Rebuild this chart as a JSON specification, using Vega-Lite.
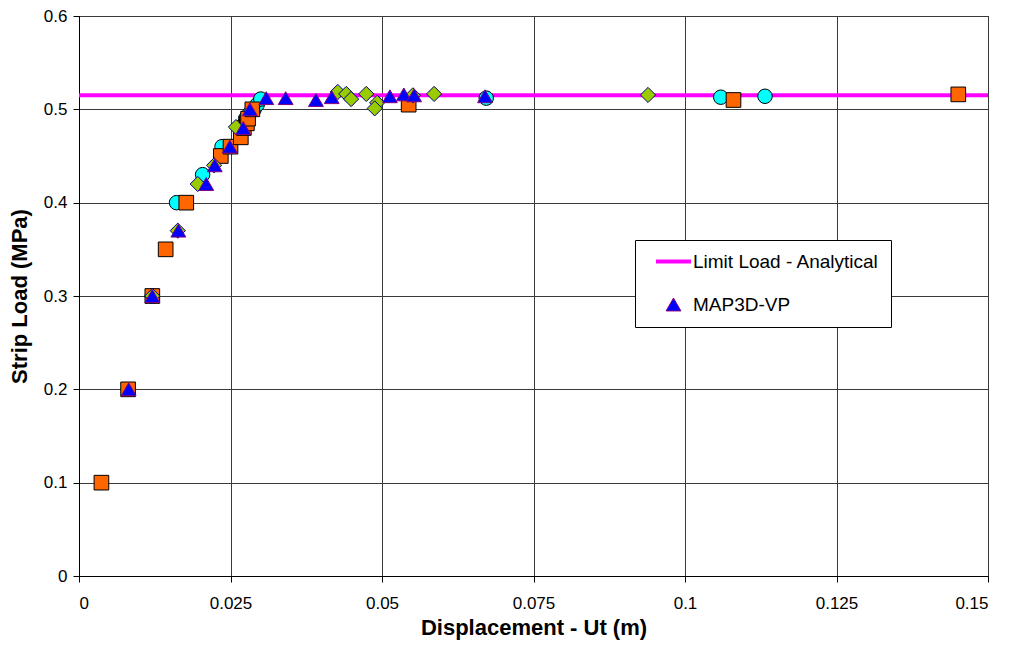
{
  "$schema": "https://vega.github.io/schema/vega-lite/v6.json",
  "width": 909,
  "height": 560,
  "autosize": {"type": "none"},
  "padding": {"left": 79, "top": 16, "right": 24, "bottom": 70},
  "background": "white",
  "config": {
    "view": {"stroke": "black", "strokeWidth": 1},
    "font": "Liberation Sans",
    "axis": {
      "domainColor": "black",
      "tickColor": "black",
      "tickSize": 6,
      "gridColor": "#3a3a3a",
      "gridWidth": 1,
      "labelFont": "Liberation Sans",
      "labelFontSize": 17,
      "labelColor": "black",
      "titleFont": "Liberation Sans",
      "titleFontSize": 22,
      "titleFontWeight": "bold",
      "titleColor": "black"
    },
    "legend": {
      "title": null,
      "orient": "none", "legendX": 556, "legendY": 224,
      "padding": 12, "strokeColor": "black", "fillColor": "white",
      "labelFont": "Liberation Sans", "labelFontSize": 19, "labelColor": "black",
      "labelLimit": 500, "symbolOffset": 17, "symbolSize": 1225,
      "rowPadding": 23, "labelOffset": 10,
      "labelExpr": "datum.label + '        '"
    }
  },
  "datasets": {
    "limit": [
      {"s": "Limit Load - Analytical", "x": 0, "y": 0.515},
      {"s": "Limit Load - Analytical", "x": 0.15, "y": 0.515}
    ],
    "pts": [
      {"s": "Series C", "x": 0.0121, "y": 0.3},
      {"s": "Series C", "x": 0.0161, "y": 0.4},
      {"s": "Series C", "x": 0.0204, "y": 0.43},
      {"s": "Series C", "x": 0.0236, "y": 0.46},
      {"s": "Series C", "x": 0.0275, "y": 0.49},
      {"s": "Series C", "x": 0.0281, "y": 0.495},
      {"s": "Series C", "x": 0.0289, "y": 0.5},
      {"s": "Series C", "x": 0.0294, "y": 0.505},
      {"s": "Series C", "x": 0.03, "y": 0.511},
      {"s": "Series C", "x": 0.0672, "y": 0.512},
      {"s": "Series C", "x": 0.1059, "y": 0.513},
      {"s": "Series C", "x": 0.1132, "y": 0.514},
      {"s": "Series A", "x": 0.0037, "y": 0.1},
      {"s": "Series A", "x": 0.0081, "y": 0.2},
      {"s": "Series A", "x": 0.0121, "y": 0.3},
      {"s": "Series A", "x": 0.0143, "y": 0.35},
      {"s": "Series A", "x": 0.0177, "y": 0.4},
      {"s": "Series A", "x": 0.0234, "y": 0.45},
      {"s": "Series A", "x": 0.025, "y": 0.46},
      {"s": "Series A", "x": 0.0267, "y": 0.47},
      {"s": "Series A", "x": 0.0272, "y": 0.48},
      {"s": "Series A", "x": 0.0277, "y": 0.485},
      {"s": "Series A", "x": 0.0279, "y": 0.49},
      {"s": "Series A", "x": 0.0286, "y": 0.5},
      {"s": "Series A", "x": 0.0544, "y": 0.505},
      {"s": "Series A", "x": 0.108, "y": 0.51},
      {"s": "Series A", "x": 0.1451, "y": 0.516},
      {"s": "Series B", "x": 0.0121, "y": 0.3},
      {"s": "Series B", "x": 0.0163, "y": 0.37},
      {"s": "Series B", "x": 0.0196, "y": 0.42},
      {"s": "Series B", "x": 0.0223, "y": 0.44},
      {"s": "Series B", "x": 0.0259, "y": 0.481},
      {"s": "Series B", "x": 0.0427, "y": 0.5186},
      {"s": "Series B", "x": 0.0441, "y": 0.5165},
      {"s": "Series B", "x": 0.0449, "y": 0.511},
      {"s": "Series B", "x": 0.0474, "y": 0.5165},
      {"s": "Series B", "x": 0.0492, "y": 0.507},
      {"s": "Series B", "x": 0.0488, "y": 0.501},
      {"s": "Series B", "x": 0.0551, "y": 0.515},
      {"s": "Series B", "x": 0.0586, "y": 0.5165},
      {"s": "Series B", "x": 0.0939, "y": 0.5154},
      {"s": "MAP3D-VP", "x": 0.0082, "y": 0.2},
      {"s": "MAP3D-VP", "x": 0.0121, "y": 0.3},
      {"s": "MAP3D-VP", "x": 0.0164, "y": 0.37},
      {"s": "MAP3D-VP", "x": 0.021, "y": 0.42},
      {"s": "MAP3D-VP", "x": 0.0224, "y": 0.44},
      {"s": "MAP3D-VP", "x": 0.0249, "y": 0.46},
      {"s": "MAP3D-VP", "x": 0.0271, "y": 0.48},
      {"s": "MAP3D-VP", "x": 0.0282, "y": 0.5},
      {"s": "MAP3D-VP", "x": 0.0309, "y": 0.512},
      {"s": "MAP3D-VP", "x": 0.0341, "y": 0.512},
      {"s": "MAP3D-VP", "x": 0.0391, "y": 0.51},
      {"s": "MAP3D-VP", "x": 0.0417, "y": 0.513},
      {"s": "MAP3D-VP", "x": 0.0513, "y": 0.514},
      {"s": "MAP3D-VP", "x": 0.0536, "y": 0.516},
      {"s": "MAP3D-VP", "x": 0.0553, "y": 0.515},
      {"s": "MAP3D-VP", "x": 0.067, "y": 0.514}
    ]
  },
  "layer": [
    {
      "data": {"name": "limit"},
      "mark": {"type": "line", "strokeWidth": 4},
      "encoding": {
        "x": {
          "field": "x", "type": "quantitative",
          "scale": {"domain": [0, 0.15], "nice": false},
          "axis": {"values": [0, 0.025, 0.05, 0.075, 0.1, 0.125, 0.15], "format": "~g", "title": "Displacement - Ut (m)", "titlePadding": 6, "labelPadding": 13}
        },
        "y": {
          "field": "y", "type": "quantitative",
          "scale": {"domain": [0, 0.6], "nice": false},
          "axis": {"values": [0, 0.1, 0.2, 0.3, 0.4, 0.5, 0.6], "format": "~g", "title": "Strip Load (MPa)", "titlePadding": 12, "labelPadding": 6}
        },
        "stroke": {
          "field": "s", "type": "nominal",
          "scale": {"domain": ["Limit Load - Analytical", "MAP3D-VP", "Series A", "Series B", "Series C"], "range": ["#FF00FF", "#800080", "#000000", "#000080", "#000000"]},
          "legend": {
            "values": ["Limit Load - Analytical", "MAP3D-VP"],
            "encode": {"symbols": {"update": {
              "strokeWidth": {"signal": "datum.value === 'Limit Load - Analytical' ? 4 : 1"}
            }}}
          }
        }
      }
    },
    {
      "data": {"name": "pts"},
      "mark": {"type": "point", "filled": false, "opacity": 1, "strokeWidth": 1},
      "encoding": {
        "x": {"field": "x", "type": "quantitative"},
        "y": {"field": "y", "type": "quantitative"},
        "shape": {
          "field": "s", "type": "nominal",
          "scale": {"domain": ["Limit Load - Analytical", "MAP3D-VP", "Series A", "Series B", "Series C"], "range": ["stroke", "triangle-up", "square", "diamond", "circle"]},
          "legend": {
            "values": ["Limit Load - Analytical", "MAP3D-VP"],
            "encode": {"symbols": {"update": {
              "strokeWidth": {"signal": "datum.value === 'Limit Load - Analytical' ? 4 : 1"}
            }}}
          }
        },
        "fill": {
          "field": "s", "type": "nominal",
          "scale": {"domain": ["Limit Load - Analytical", "MAP3D-VP", "Series A", "Series B", "Series C"], "range": ["#FF00FF", "#0000FF", "#FF6600", "#99CC00", "#00FFFF"]},
          "legend": {
            "values": ["Limit Load - Analytical", "MAP3D-VP"],
            "encode": {"symbols": {"update": {
              "strokeWidth": {"signal": "datum.value === 'Limit Load - Analytical' ? 4 : 1"}
            }}}
          }
        },
        "stroke": {"field": "s", "type": "nominal"},
        "size": {
          "field": "s", "type": "nominal",
          "scale": {"type": "ordinal", "domain": ["Limit Load - Analytical", "MAP3D-VP", "Series A", "Series B", "Series C"], "range": [1225, 220, 215, 230, 210]},
          "legend": null
        }
      }
    }
  ]
}
